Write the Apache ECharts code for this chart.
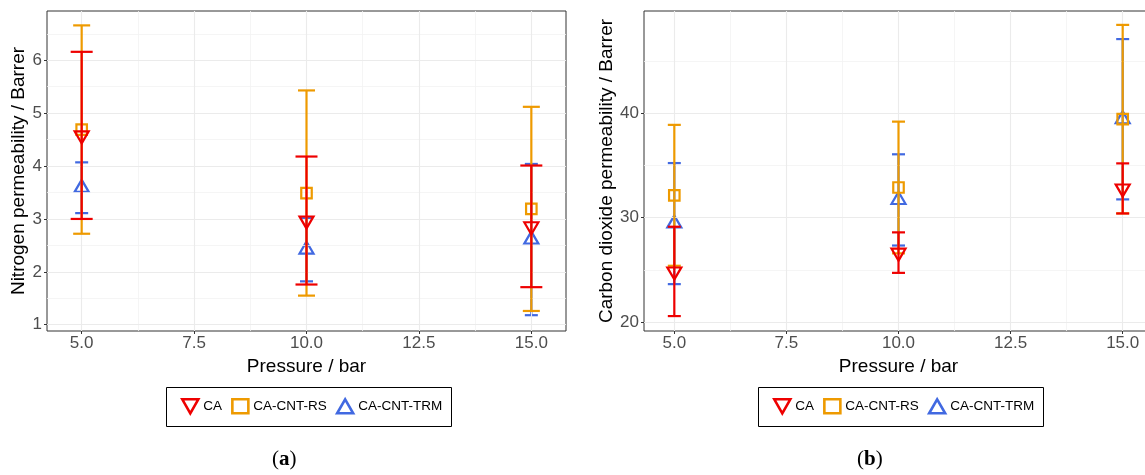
<!DOCTYPE html>
<html>
<head>
<meta charset="utf-8">
<script src="https://cdn.jsdelivr.net/npm/echarts@6/dist/echarts.min.js"></script>
<style>
  html, body { margin: 0; padding: 0; background: #fff; }
  #chart { width: 1145px; height: 475px; }
</style>
</head>
<body>
<div id="chart"></div>
<script>
// Pressure levels (bar)
const pressure = [5, 10, 15];

// Nitrogen permeability (Barrer): mean and standard deviation
const n2CA = [4.58, 2.97, 2.86];
const n2CAsd = [1.58, 1.21, 1.15];
const n2RS = [4.69, 3.49, 3.19];
const n2RSsd = [1.97, 1.94, 1.93];
const n2TRM = [3.59, 2.42, 2.61];
const n2TRMsd = [0.48, 0.60, 1.43];

// Carbon dioxide permeability (Barrer): mean and standard deviation
const co2CA = [24.85, 26.65, 32.80];
const co2CAsd = [4.28, 1.94, 2.40];
const co2RS = [32.14, 32.89, 39.44];
const co2RSsd = [6.75, 6.31, 9.03];
const co2TRM = [29.43, 31.70, 39.43];
const co2TRMsd = [5.80, 4.37, 7.68];

// Axis ticks and grid lines
const xTicks = [5, 7.5, 10, 12.5, 15];
const xMinor = [6.25, 8.75, 11.25, 13.75];
const n2Ticks = [1, 2, 3, 4, 5, 6];
const n2Minor = [1.5, 2.5, 3.5, 4.5, 5.5, 6.5];
const co2Ticks = [20, 30, 40];
const co2Minor = [25, 35, 45];

const RED = '#EE0000';
const ORANGE = '#EE9A00';
const BLUE = '#4169E1';

const GRID_MAJOR = '#EBEBEB';
const GRID_MINOR = '#F3F3F3';
const TICK_COLOR = '#4D4D4D';
const SANS = 'Liberation Sans, Arial, sans-serif';

function points(mean) {
  return pressure.map((p, i) => [p, mean[i]]);
}
function bars(mean, sd) {
  return pressure.map((p, i) => [p, mean[i] - sd[i], mean[i] + sd[i]]);
}

// Vertical error bar with horizontal caps of a fixed pixel width
function errorBar(capPx) {
  return function (params, api) {
    const x = api.value(0);
    const top = api.coord([x, api.value(2)]);
    const bot = api.coord([x, api.value(1)]);
    const h = capPx / 2;
    const style = { stroke: api.visual('color'), lineWidth: 2.2, fill: null };
    return {
      type: 'group',
      children: [
        { type: 'line', shape: { x1: top[0], y1: top[1], x2: bot[0], y2: bot[1] }, style: style },
        { type: 'line', shape: { x1: top[0] - h, y1: top[1], x2: top[0] + h, y2: top[1] }, style: style },
        { type: 'line', shape: { x1: bot[0] - h, y1: bot[1], x2: bot[0] + h, y2: bot[1] }, style: style }
      ]
    };
  };
}

function gridLines(idx, xMaj, xMin, yMaj, yMin) {
  const mk = (vals, key, color, width) => vals.map(v => ({
    [key]: v, lineStyle: { color: color, width: width, type: 'solid' }
  }));
  return {
    type: 'line',
    xAxisIndex: idx,
    yAxisIndex: idx,
    data: [],
    silent: true,
    z: 1,
    markLine: {
      silent: true,
      symbol: 'none',
      animation: false,
      label: { show: false },
      emphasis: { disabled: true },
      data: [].concat(
        mk(xMin, 'xAxis', GRID_MINOR, 0.8),
        mk(yMin, 'yAxis', GRID_MINOR, 0.8),
        mk(xMaj, 'xAxis', GRID_MAJOR, 1.1),
        mk(yMaj, 'yAxis', GRID_MAJOR, 1.1)
      )
    }
  };
}

// One panel: error bars plus hollow markers for the three membranes
function panelSeries(idx, data, caps, marker) {
  const out = [];
  const defs = [
    { name: 'CA-CNT-TRM', color: BLUE, mean: data.trm, sd: data.trmSd, cap: caps[2],
      symbol: 'triangle', size: marker.tri, rotate: 0, offset: [0, '-16.7%'], z: 3 },
    { name: 'CA-CNT-RS', color: ORANGE, mean: data.rs, sd: data.rsSd, cap: caps[1],
      symbol: 'rect', size: marker.sq, rotate: 0, offset: [0, 0], z: 5 },
    { name: 'CA', color: RED, mean: data.ca, sd: data.caSd, cap: caps[0],
      symbol: 'triangle', size: marker.tri, rotate: 180, offset: [0, '16.7%'], z: 7 }
  ];
  defs.forEach(d => {
    out.push({
      type: 'custom',
      name: d.name,
      xAxisIndex: idx,
      yAxisIndex: idx,
      renderItem: errorBar(d.cap),
      encode: { x: 0, y: [1, 2] },
      itemStyle: { color: d.color },
      data: bars(d.mean, d.sd),
      silent: true,
      z: d.z
    });
    out.push({
      type: 'scatter',
      name: d.name,
      xAxisIndex: idx,
      yAxisIndex: idx,
      symbol: d.symbol,
      symbolSize: d.size,
      symbolRotate: d.rotate,
      symbolOffset: d.offset,
      itemStyle: { color: 'rgba(0,0,0,0)', borderColor: d.color, borderWidth: 2.2, opacity: 1 },
      emphasis: { disabled: true },
      data: points(d.mean),
      silent: true,
      z: d.z + 1
    });
  });
  return out;
}

function xAxisDef(idx, min, max) {
  return {
    type: 'value',
    gridIndex: idx,
    min: min,
    max: max,
    name: 'Pressure / bar',
    nameLocation: 'middle',
    nameGap: 17,
    nameTextStyle: { color: '#000', fontSize: 19, fontFamily: SANS },
    axisLine: { show: false },
    axisTick: { show: true, length: 3, customValues: xTicks, lineStyle: { color: '#333', width: 1 } },
    axisLabel: {
      show: true, margin: 4, customValues: xTicks, color: TICK_COLOR, fontSize: 17,
      fontFamily: SANS,
      formatter: v => Number(v).toFixed(1)
    },
    splitLine: { show: false }
  };
}

function yAxisDef(idx, min, max, ticks, title, gap) {
  return {
    type: 'value',
    gridIndex: idx,
    min: min,
    max: max,
    name: title,
    nameLocation: 'middle',
    nameGap: gap,
    nameTextStyle: { color: '#000', fontSize: 19, fontFamily: SANS },
    axisLine: { show: false },
    axisTick: { show: true, length: 3, customValues: ticks, lineStyle: { color: '#333', width: 1 } },
    axisLabel: {
      show: true, margin: 5, customValues: ticks, color: TICK_COLOR, fontSize: 17,
      fontFamily: SANS,
      formatter: v => String(v)
    },
    splitLine: { show: false }
  };
}

function legendDef(left) {
  return {
    left: left,
    top: 398,
    padding: 0,
    orient: 'horizontal',
    itemWidth: 16,
    itemHeight: 14,
    itemGap: 9,
    selectedMode: false,
    textStyle: { color: '#000', fontSize: 13.5, fontFamily: SANS },
    data: [
      { name: 'CA', icon: 'path://M0,0L16,0L8,14Z',
        itemStyle: { color: 'rgba(0,0,0,0)', borderColor: RED, borderWidth: 2.6 } },
      { name: 'CA-CNT-RS', icon: 'rect',
        itemStyle: { color: 'rgba(0,0,0,0)', borderColor: ORANGE, borderWidth: 2.6 } },
      { name: 'CA-CNT-TRM', icon: 'path://M8,0L16,14L0,14Z',
        itemStyle: { color: 'rgba(0,0,0,0)', borderColor: BLUE, borderWidth: 2.6 } }
    ]
  };
}

function panelTag(letter, left) {
  return {
    type: 'text', left: left, top: 449, silent: true,
    style: {
      text: '{n|(}{b|' + letter + '}{n|)}',
      rich: {
        n: { fontSize: 21, fontFamily: 'Liberation Serif, serif', fill: '#000' },
        b: { fontSize: 21, fontFamily: 'Liberation Serif, serif', fontWeight: 'bold', fill: '#000' }
      }
    }
  };
}

const n2Data = { ca: n2CA, caSd: n2CAsd, rs: n2RS, rsSd: n2RSsd, trm: n2TRM, trmSd: n2TRMsd };
const co2Data = { ca: co2CA, caSd: co2CAsd, rs: co2RS, rsSd: co2RSsd, trm: co2TRM, trmSd: co2TRMsd };

const chart = echarts.init(document.getElementById('chart'), null, { renderer: 'canvas' });

const option = {
  backgroundColor: '#fff',
  animation: false,
  grid: [
    { left: 47, top: 11, width: 519, height: 320, show: true, borderColor: '#333', borderWidth: 1,
      backgroundColor: 'rgba(0,0,0,0)', containLabel: false, outerBoundsMode: 'none' },
    { left: 644, top: 11, width: 509, height: 320, show: true, borderColor: '#333', borderWidth: 1,
      backgroundColor: 'rgba(0,0,0,0)', containLabel: false, outerBoundsMode: 'none' }
  ],
  xAxis: [
    xAxisDef(0, 4.229, 15.771),
    xAxisDef(1, 4.324, 15.676)
  ],
  yAxis: [
    yAxisDef(0, 0.881, 6.932, n2Ticks, 'Nitrogen permeability / Barrer', 18),
    yAxisDef(1, 19.14, 49.80, co2Ticks, 'Carbon dioxide permeability / Barrer', 28)
  ],
  legend: [legendDef(181), legendDef(773)],
  graphic: [
    { type: 'rect', left: 164, top: 385, shape: { width: 285, height: 39 },
      style: { fill: 'none', stroke: '#000', lineWidth: 1 }, silent: true },
    { type: 'rect', left: 756, top: 385, shape: { width: 285, height: 39 },
      style: { fill: 'none', stroke: '#000', lineWidth: 1 }, silent: true },
    panelTag('a', 272),
    panelTag('b', 857)
  ],
  series: [
    gridLines(0, xTicks, xMinor, n2Ticks, n2Minor),
    gridLines(1, xTicks, xMinor, co2Ticks, co2Minor)
  ].concat(
    panelSeries(0, n2Data, [22, 17, 13], { tri: [14, 12], sq: 10.5 }),
    panelSeries(1, co2Data, [13, 13, 13], { tri: [14, 12], sq: 10.5 })
  )
};

chart.setOption(option);
</script>
</body>
</html>
